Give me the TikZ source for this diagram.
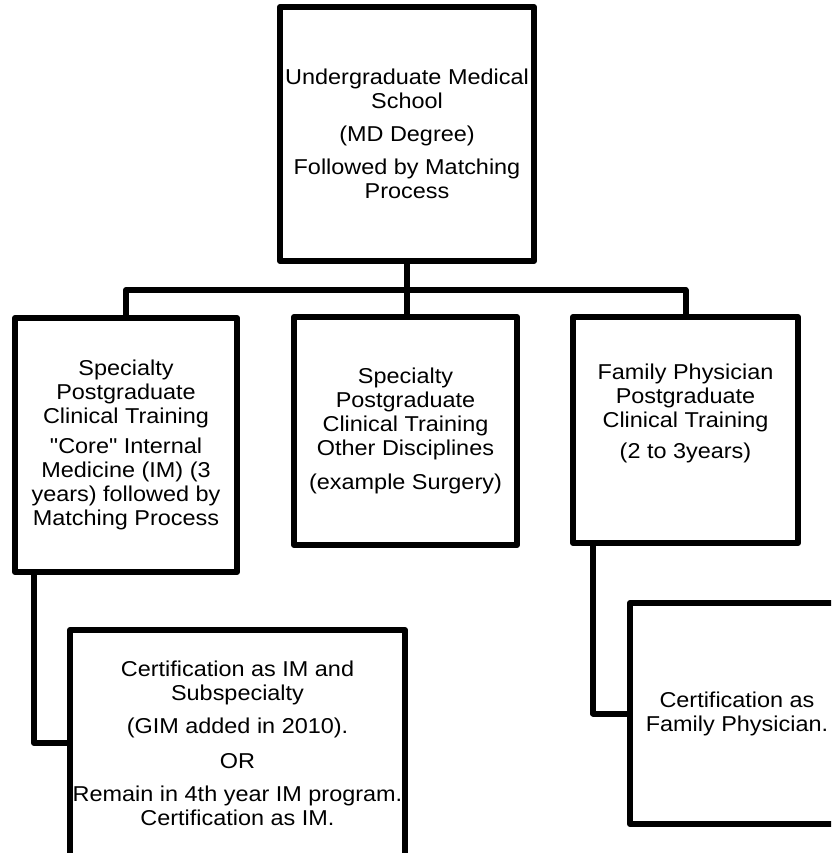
\documentclass[tikz,border=0pt]{standalone}
\usepackage{fontspec}
\setmainfont{Liberation Sans}[FakeStretch=1.09, Ligatures=TeXOff]
\tikzset{
  stagebox/.style={draw, line width=6pt, line join=round, align=center, inner sep=0pt, font=\fontsize{21.5pt}{24pt}\selectfont},
  linkline/.style={line width=6pt, line join=round}
}

\begin{document}
\begin{tikzpicture}[x=1pt, y=-1pt]
  \useasboundingbox (0,0) rectangle (831,853);
  \clip (0,0) rectangle (831,853);
  \node[stagebox, minimum width=254pt, minimum height=254pt] (md) at (407,134) {Undergraduate Medical\\School\\[9pt](MD Degree)\\[9pt]Followed by Matching\\Process};
  \node[stagebox, minimum width=222pt, minimum height=254pt] (spec) at (126,445) {Specialty\\Postgraduate\\Clinical Training\\[6pt]"Core" Internal\\Medicine (IM) (3\\years) followed by\\Matching Process};
  \node[stagebox, minimum width=223pt, minimum height=228pt] (other) at (405.5,431) {Specialty\\Postgraduate\\Clinical Training\\Other Disciplines\\[10pt](example Surgery)};
  \node[stagebox, minimum width=225pt, minimum height=226pt] (fam) at (685.5,430) {Family Physician\\Postgraduate\\Clinical Training\\[7pt](2 to 3years)\\[13pt]\mbox{}};
  \node[stagebox, minimum width=335pt, minimum height=226pt] (certim) at (237.5,743) {Certification as IM and\\Subspecialty\\[9pt](GIM added in 2010).\\[11pt]OR\\[9pt]Remain in 4th year IM program.\\Certification as IM.};
  \node[stagebox, minimum width=214pt, minimum height=221pt] (certfp) at (737,713.5) {Certification as\\Family Physician.};

  \coordinate (bus) at (407,290);
  \draw[linkline] (md.south) -- (bus);
  \draw[linkline] (spec.north) |- (bus) -| (fam.north);
  \draw[linkline] (bus) -- (bus |- other.north);
  \draw[linkline] ([xshift=22pt]spec.south west) |- (certim.west);
  \draw[linkline] ([xshift=23pt]fam.south west) |- (certfp.west);
\end{tikzpicture}
\end{document}
